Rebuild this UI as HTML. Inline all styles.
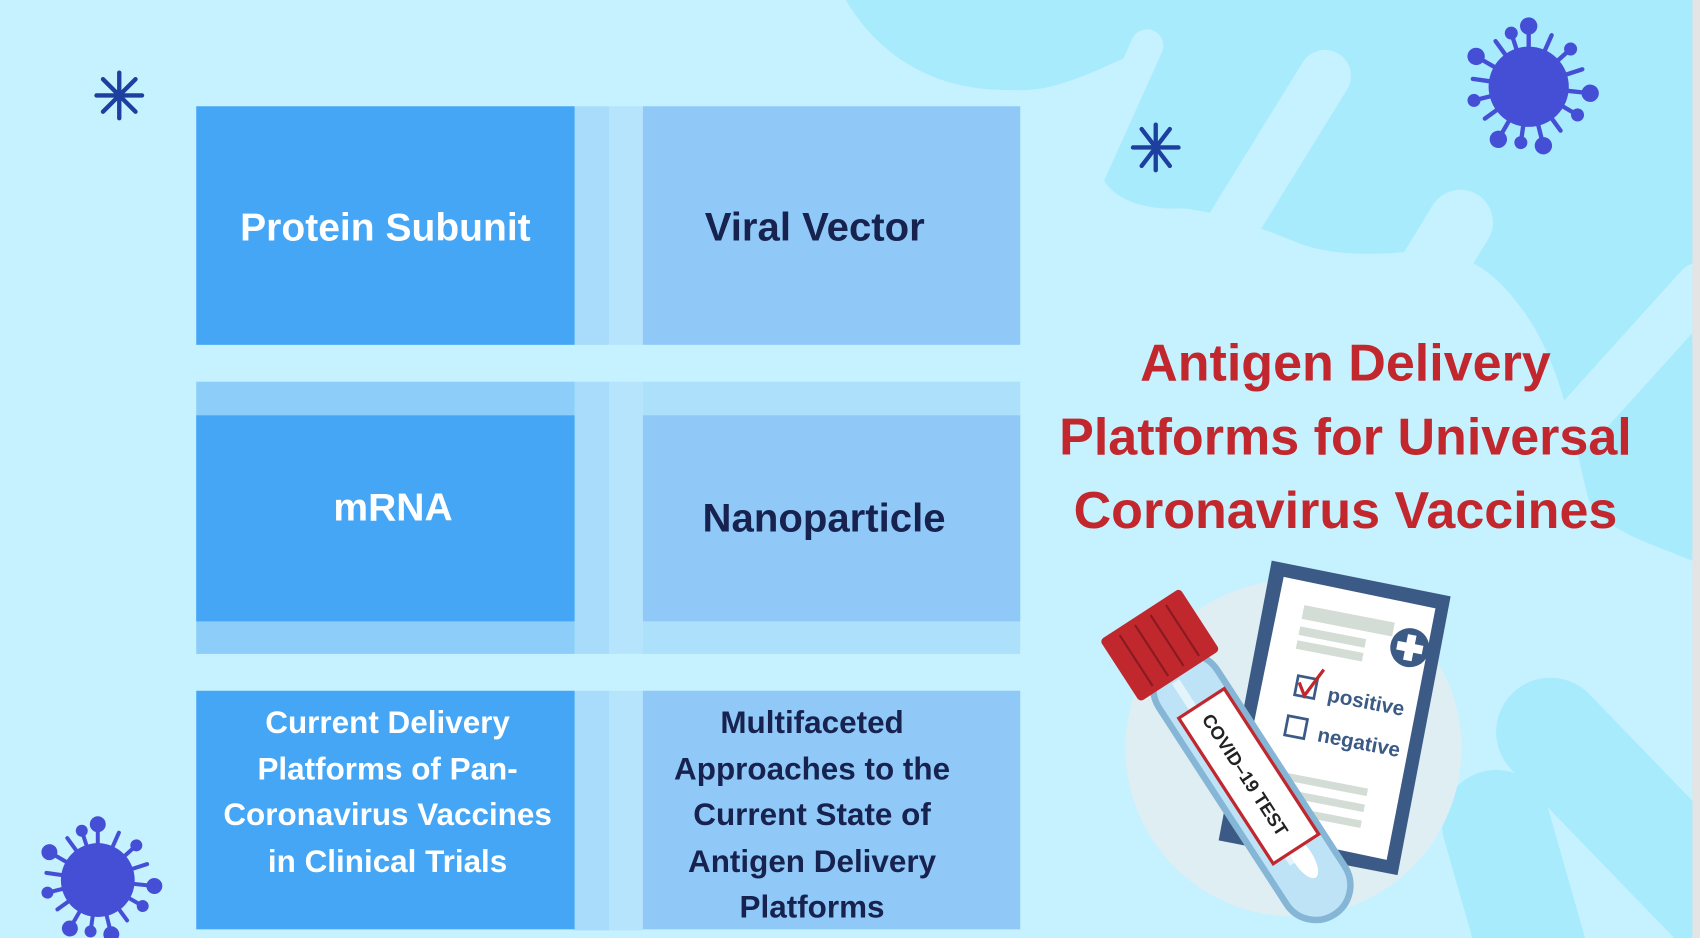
<!DOCTYPE html>
<html><head><meta charset="utf-8"><style>
html,body{margin:0;padding:0;background:#c6f1fe;overflow:hidden}
#w{width:1568px;height:865px;transform:scale(1.08418,1.08439);transform-origin:0 0;position:relative;overflow:hidden;background:#c6f1fe;font-family:"Liberation Sans",sans-serif}
.b{position:absolute;display:flex;align-items:center;justify-content:center;text-align:center;font-weight:bold}
.d{background:#44a6f5;color:#fff}
.l{background:#90c9f8;color:#17224f}
.s{position:absolute}
</style></head><body><div id="w">
<svg class="s" style="left:0;top:0" width="1568" height="865" viewBox="0 0 1568 865">
<path d="M780,0 L1568,0 L1568,520 C1520,500 1480,490 1465,460 C1450,400 1440,330 1400,280 C1370,240 1340,230 1300,232 C1270,235 1230,236 1200,225 C1150,205 1120,195 1090,192 C1050,195 1010,180 1012,140 C1015,100 1030,70 1045,50 C1000,70 970,85 935,83 C860,85 810,50 780,0 Z" fill="#a8ebfd"/>
<g stroke="#c6f1fe" stroke-linecap="round" fill="none">
<line x1="1058" y1="42" x2="1005" y2="160" stroke-width="30"/>
<line x1="1222" y1="70" x2="1080" y2="300" stroke-width="48"/>
<line x1="1347" y1="205" x2="1240" y2="380" stroke-width="60"/>
<line x1="1568" y1="265" x2="1455" y2="390" stroke-width="46"/>
</g>
<g stroke="#a8ebfd" stroke-linecap="round">
<line x1="1430" y1="675" x2="1580" y2="830" stroke-width="100"/>
<line x1="1380" y1="760" x2="1420" y2="900" stroke-width="100"/>
</g>
<rect x="1561" y="0" width="7" height="865" fill="#e4e4e4"/>
<g stroke="#1d3f9e" stroke-width="4" stroke-linecap="round">
<g transform="translate(110,88)"><line x1="0" y1="-21" x2="0" y2="21"/><line x1="-21" y1="0" x2="21" y2="0"/><line x1="-15" y1="-15" x2="15" y2="15"/><line x1="-15" y1="15" x2="15" y2="-15"/></g>
<g transform="translate(1066,136)"><line x1="0" y1="-21" x2="0" y2="21"/><line x1="-21" y1="0" x2="21" y2="0"/><line x1="-13" y1="-17" x2="13" y2="17"/><line x1="-13" y1="17" x2="13" y2="-17"/></g>
</g>
<g id="v1" transform="translate(1410,80)" fill="#454fd6" stroke="#454fd6" stroke-width="4" stroke-linecap="round">
<circle r="37" stroke="none"/>
<g><line x1="0" y1="-36" x2="0" y2="-54"/><circle cx="0" cy="-56" r="6"/></g>
<g transform="rotate(24)"><line x1="0" y1="-36" x2="0" y2="-52"/></g>
<g transform="rotate(48)"><line x1="0" y1="-36" x2="0" y2="-52"/><circle cx="0" cy="-52" r="4"/></g>
<g transform="rotate(72)"><line x1="0" y1="-36" x2="0" y2="-52"/></g>
<g transform="rotate(96)"><line x1="0" y1="-36" x2="0" y2="-55"/><circle cx="0" cy="-57" r="6"/></g>
<g transform="rotate(120)"><line x1="0" y1="-36" x2="0" y2="-52"/><circle cx="0" cy="-52" r="4"/></g>
<g transform="rotate(144)"><line x1="0" y1="-36" x2="0" y2="-50"/></g>
<g transform="rotate(166)"><line x1="0" y1="-36" x2="0" y2="-54"/><circle cx="0" cy="-56" r="6"/></g>
<g transform="rotate(188)"><line x1="0" y1="-36" x2="0" y2="-52"/><circle cx="0" cy="-52" r="4"/></g>
<g transform="rotate(210)"><line x1="0" y1="-36" x2="0" y2="-54"/><circle cx="0" cy="-56" r="6"/></g>
<g transform="rotate(234)"><line x1="0" y1="-36" x2="0" y2="-50"/></g>
<g transform="rotate(256)"><line x1="0" y1="-36" x2="0" y2="-52"/><circle cx="0" cy="-52" r="4"/></g>
<g transform="rotate(278)"><line x1="0" y1="-36" x2="0" y2="-52"/></g>
<g transform="rotate(300)"><line x1="0" y1="-36" x2="0" y2="-54"/><circle cx="0" cy="-56" r="6"/></g>
<g transform="rotate(324)"><line x1="0" y1="-36" x2="0" y2="-52"/></g>
<g transform="rotate(342)"><line x1="0" y1="-36" x2="0" y2="-52"/><circle cx="0" cy="-52" r="4"/></g>
</g>
<use href="#v1" transform="translate(-1207,738) scale(0.92)"/>
<circle cx="1193" cy="690" r="155" fill="#dfeef3"/>
<polygon points="1173,517 1338,550 1289,807 1124,775" fill="#3b5a85"/>
<polygon points="1184,532 1324,561 1279,793 1137,763" fill="#fff"/>
<g transform="translate(1231,650) rotate(11)">
<rect x="-45" y="-85" width="85" height="13" fill="#d3ddd6"/>
<rect x="-45" y="-65" width="62" height="8" fill="#d3ddd6"/>
<rect x="-45" y="-52" width="62" height="8" fill="#d3ddd6"/>
<circle cx="58" cy="-65" r="18" fill="#3b5a85"/><rect x="54" y="-77" width="8" height="24" fill="#fff"/><rect x="46" y="-69" width="24" height="8" fill="#fff"/>
<rect x="-38" y="-20" width="18" height="18" fill="none" stroke="#3b5a85" stroke-width="2.5"/>
<path d="M-36,-14 L-29,-3 L-16,-30" fill="none" stroke="#c0282e" stroke-width="3"/>
<text x="-8" y="-2" font-family="Liberation Sans Narrow,Liberation Sans,sans-serif" font-size="19" fill="#3b5a85" font-weight="bold">positive</text>
<rect x="-40" y="18" width="18" height="18" fill="none" stroke="#3b5a85" stroke-width="2.5"/>
<text x="-10" y="36" font-family="Liberation Sans Narrow,Liberation Sans,sans-serif" font-size="19" fill="#3b5a85" font-weight="bold">negative</text>
<rect x="-45" y="70" width="90" height="7" fill="#d3ddd6"/>
<rect x="-45" y="85" width="90" height="7" fill="#d3ddd6"/>
<rect x="-45" y="100" width="90" height="7" fill="#d3ddd6"/>
</g>
<g transform="translate(1073,600) rotate(-33)">
<rect x="-32" y="10" width="64" height="280" rx="32" fill="#bfe3f6" stroke="#86b6d6" stroke-width="6"/>
<rect x="-10" y="30" width="8" height="200" fill="#e4f4fb"/>
<ellipse cx="4" cy="230" rx="9" ry="22" fill="#fff"/>
<rect x="-3" y="120" width="6" height="110" fill="#fff"/>
<rect x="-22" y="60" width="50" height="160" fill="#fff" stroke="#c0282e" stroke-width="3"/>
<text transform="translate(-5,72) rotate(90)" font-family="Liberation Sans Narrow,Liberation Sans,sans-serif" font-weight="bold" font-size="17" fill="#222">COVID–19 TEST</text>
<rect x="-44" y="-40" width="88" height="68" rx="4" fill="#c0282e"/>
<g stroke="#8a1a20" stroke-width="2"><line x1="-26" y1="-34" x2="-26" y2="22"/><line x1="-9" y1="-34" x2="-9" y2="22"/><line x1="8" y1="-34" x2="8" y2="22"/><line x1="25" y1="-34" x2="25" y2="22"/></g>
</g>
</svg>
<div class="s" style="left:530px;top:98px;width:32px;height:760px;background:#a8dcfa"></div>
<div class="s" style="left:562px;top:98px;width:31px;height:760px;background:#b6e4fc"></div>
<div class="s" style="left:181px;top:318px;width:760px;height:34px;background:#c6f1fe"></div>
<div class="s" style="left:181px;top:603px;width:760px;height:34px;background:#c6f1fe"></div>
<div class="s" style="left:181px;top:352px;width:349px;height:251px;background:#8ccdf9"></div>
<div class="s" style="left:593px;top:352px;width:348px;height:251px;background:#ace0fb"></div>
<div class="b d" style="left:181px;top:98px;width:349px;height:220px;font-size:36px;box-sizing:border-box;padding-top:4px">Protein Subunit</div>
<div class="b l" style="left:593px;top:98px;width:348px;height:220px;font-size:37px;box-sizing:border-box;justify-content:flex-start;padding-left:57px;padding-top:4px">Viral Vector</div>
<div class="b d" style="left:181px;top:383px;width:349px;height:190px;font-size:36px;align-items:flex-start;box-sizing:border-box;padding-top:64px;padding-left:14px">mRNA</div>
<div class="b l" style="left:593px;top:383px;width:348px;height:190px;font-size:37px;box-sizing:border-box;justify-content:flex-start;padding-left:55px;padding-bottom:0">Nanoparticle</div>
<div class="b d" style="left:181px;top:637px;width:349px;height:220px;font-size:29px;line-height:42.5px;align-items:flex-start;box-sizing:border-box;padding-top:9px;padding-left:4px">Current Delivery<br>Platforms of Pan-<br>Coronavirus Vaccines<br>in Clinical Trials</div>
<div class="b l" style="left:593px;top:637px;width:348px;height:220px;font-size:29px;line-height:42.5px;align-items:flex-start;box-sizing:border-box;padding-top:9px;padding-right:36px">Multifaceted<br>Approaches to the<br>Current State of<br>Antigen Delivery<br>Platforms</div>
<div class="s" style="left:941px;top:302px;width:600px;text-align:center;color:#c1272d;font-weight:bold;font-size:48px;line-height:68px">Antigen Delivery<br>Platforms for Universal<br>Coronavirus Vaccines</div>
</div></body></html>
